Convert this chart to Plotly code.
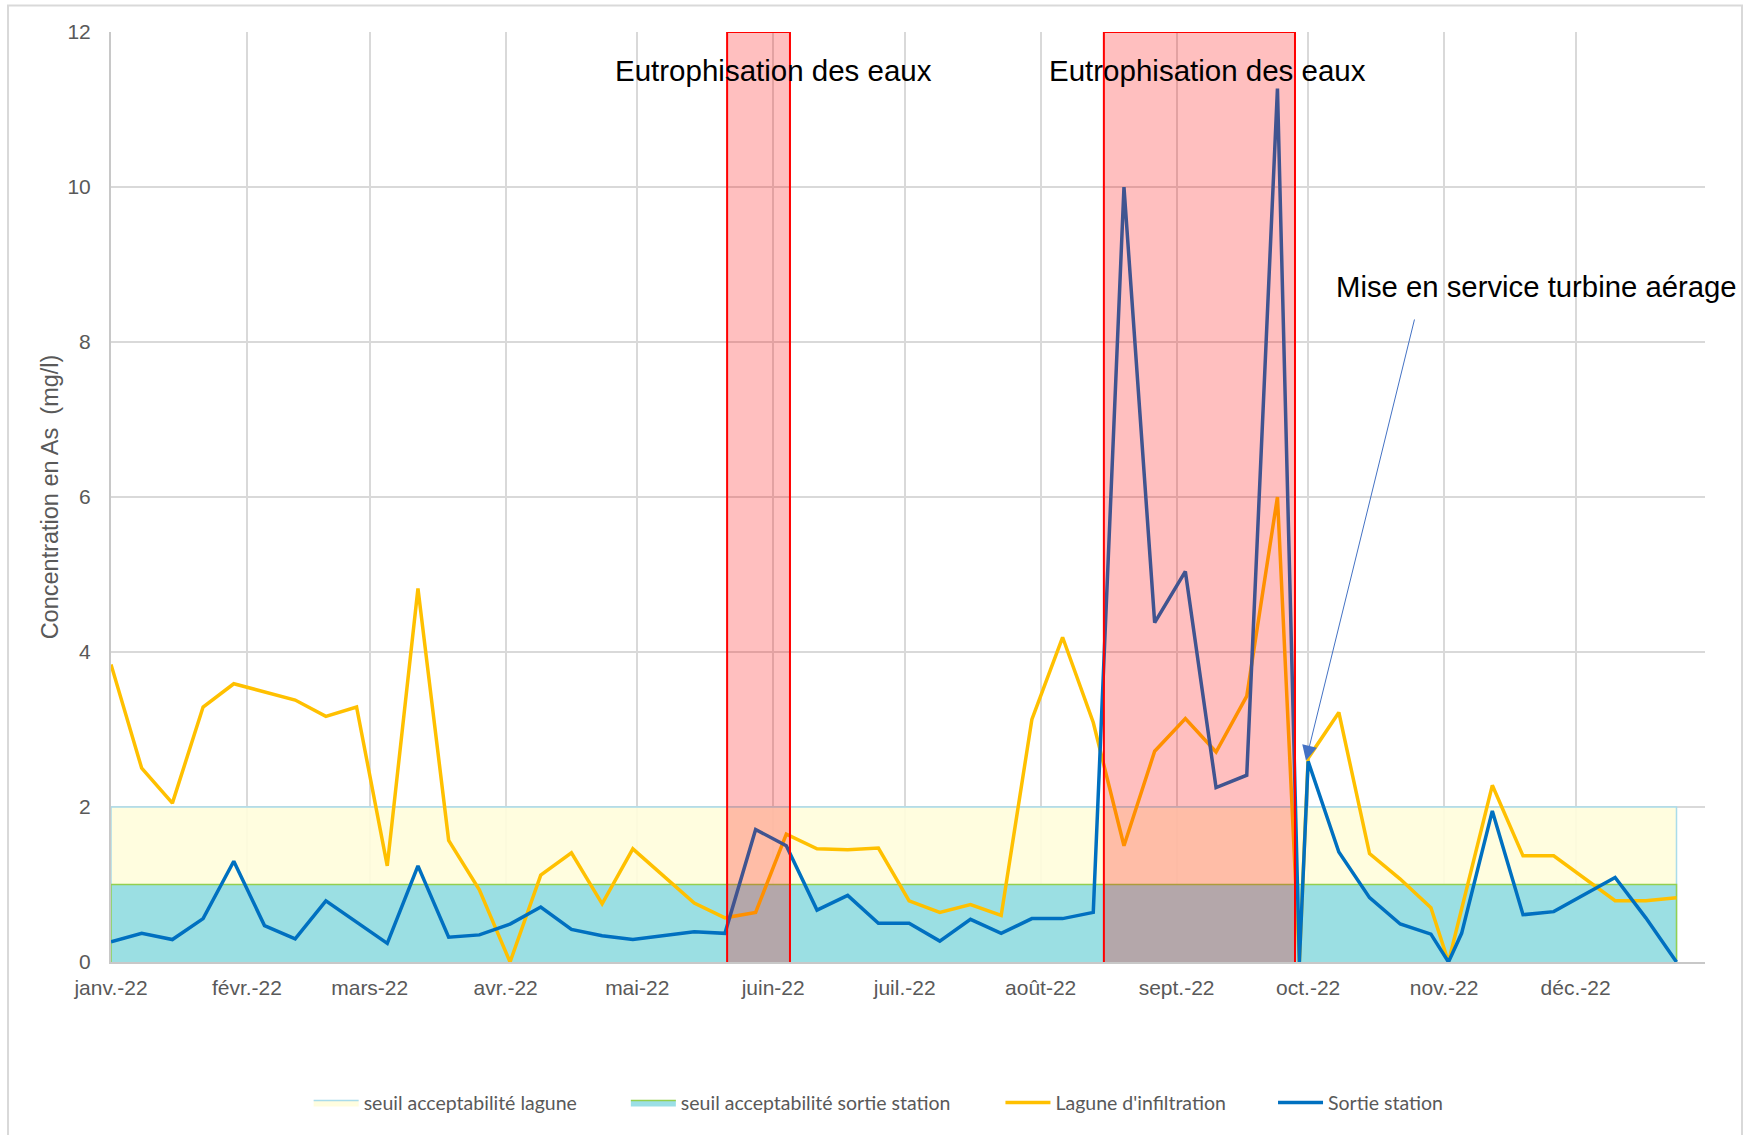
import plotly.graph_objects as go

# ---------------- data ----------------
dates = [
    "2022-01-01", "2022-01-08", "2022-01-15", "2022-01-22", "2022-01-29",
    "2022-02-05", "2022-02-12", "2022-02-19", "2022-02-26",
    "2022-03-05", "2022-03-12", "2022-03-19", "2022-03-26",
    "2022-04-02", "2022-04-09", "2022-04-16", "2022-04-23", "2022-04-30",
    "2022-05-07", "2022-05-14", "2022-05-21", "2022-05-28",
    "2022-06-04", "2022-06-11", "2022-06-18", "2022-06-25",
    "2022-07-02", "2022-07-09", "2022-07-16", "2022-07-23", "2022-07-30",
    "2022-08-06", "2022-08-13", "2022-08-20", "2022-08-27",
    "2022-09-03", "2022-09-10", "2022-09-17", "2022-09-24", "2022-09-29",
    "2022-10-01", "2022-10-08", "2022-10-15", "2022-10-22", "2022-10-29",
    "2022-11-02", "2022-11-05", "2022-11-12", "2022-11-19", "2022-11-26",
    "2022-12-03", "2022-12-10", "2022-12-17", "2022-12-24",
]

lagune = [
    3.84, 2.50, 2.05, 3.29, 3.59,
    None, 3.38, 3.17, 3.29,
    1.24, 4.82, 1.57, 0.93,
    0.00, 1.12, 1.41, 0.75, 1.46,
    None, 0.76, 0.57, 0.64,
    1.65, 1.46, 1.45, 1.47,
    0.79, 0.64, 0.74, 0.60, 3.13,
    4.19, 3.09, 1.50, 2.72,
    3.14, 2.71, 3.43, 6.00, 0.00,
    2.63, 3.22, 1.40, 1.07, 0.70,
    0.00, None, 2.28, 1.37, 1.37,
    None, 0.79, 0.79, 0.83,
]

sortie = [
    0.26, 0.37, 0.29, 0.56, 1.30,
    0.47, 0.30, 0.79, None,
    0.24, 1.24, 0.32, 0.35,
    0.49, 0.71, 0.42, 0.34, 0.29,
    None, 0.39, 0.37, 1.71,
    1.50, 0.67, 0.86, 0.50,
    0.50, 0.27, 0.55, 0.37, 0.56,
    0.56, 0.64, 10.00, 4.38,
    5.04, 2.25, 2.41, 11.27, 0.00,
    2.59, 1.42, 0.83, 0.49, 0.36,
    0.00, 0.37, 1.95, 0.61, 0.65,
    None, 1.09, 0.57, 0.00,
]

seuil_lagune = 2.0
seuil_sortie = 1.0

month_ticks = ["2022-01-01", "2022-02-01", "2022-03-01", "2022-04-01",
               "2022-05-01", "2022-06-01", "2022-07-01", "2022-08-01",
               "2022-09-01", "2022-10-01", "2022-11-01", "2022-12-01"]
month_labels = ["janv.-22", "févr.-22", "mars-22", "avr.-22", "mai-22",
                "juin-22", "juil.-22", "août-22", "sept.-22", "oct.-22",
                "nov.-22", "déc.-22"]

eutro_periods = [("2022-05-21 12:00", "2022-06-04 20:00"),
                 ("2022-08-15 10:00", "2022-09-28 00:00")]

# ---------------- figure ----------------
GREY = "#595959"
AX_FONT = "Liberation Sans, Arial, sans-serif"
LEG_FONT = "Lato, Liberation Sans, sans-serif"

fig = go.Figure()

def band(level):
    xs = [dates[0]] + dates + [dates[-1]]
    ys = [0] + [level] * len(dates) + [0]
    return xs, ys

bx, by = band(seuil_lagune)
fig.add_trace(go.Scatter(
    x=bx, y=by, fill="toself", mode="lines",
    fillcolor="rgba(255,253,220,0.92)",
    line=dict(color="#A9DCEA", width=1.5),
    name="seuil acceptabilité lagune", legend="legend",
    hoverinfo="skip"))

bx, by = band(seuil_sortie)
fig.add_trace(go.Scatter(
    x=bx, y=by, fill="toself", mode="lines",
    fillcolor="rgba(144,219,227,0.9)",
    line=dict(color="#92D050", width=1.5),
    name="seuil acceptabilité sortie station", legend="legend2",
    hoverinfo="skip"))

fig.add_trace(go.Scatter(
    x=dates, y=lagune, mode="lines", connectgaps=True,
    line=dict(color="#FFC000", width=3.5),
    name="Lagune d'infiltration", legend="legend3"))

fig.add_trace(go.Scatter(
    x=dates, y=sortie, mode="lines", connectgaps=True,
    line=dict(color="#0070C0", width=3.5),
    name="Sortie station", legend="legend4"))

for x0, x1 in eutro_periods:
    fig.add_shape(type="rect", xref="x", yref="y", x0=x0, x1=x1, y0=-0.02, y1=12,
                  fillcolor="rgba(255,0,0,0.25)", line=dict(color="#FF0000", width=2),
                  layer="above")

# annotations
fig.add_annotation(x="2022-06-01", y=11.5, xref="x", yref="y", text="Eutrophisation des eaux",
                   showarrow=False, font=dict(family=AX_FONT, size=29.5, color="black"))
fig.add_annotation(x="2022-09-08", y=11.5, xref="x", yref="y", text="Eutrophisation des eaux",
                   showarrow=False, font=dict(family=AX_FONT, size=29.5, color="black"))
fig.add_annotation(x="2022-10-07", y=8.72, xref="x", yref="y", text="Mise en service turbine aérage",
                   showarrow=False, xanchor="left",
                   font=dict(family=AX_FONT, size=29.3, color="black"))
fig.add_annotation(x="2022-09-30 12:00", y=2.6, xref="x", yref="y",
                   ax="2022-10-25 08:00", ay=8.31, axref="x", ayref="y",
                   text="", showarrow=True, arrowhead=2, arrowsize=3, arrowwidth=1,
                   arrowcolor="#4472C4", standoff=0)

# chart border
fig.add_shape(type="rect", xref="paper", yref="paper",
              x0=-0.0646, x1=1.0232, y0=-0.195, y1=1.0286,
              line=dict(color="#D9D9D9", width=2), fillcolor="rgba(0,0,0,0)", layer="below")

leg_common = dict(orientation="h", yanchor="middle", y=-0.1515, xanchor="left",
                  font=dict(family=LEG_FONT, size=19.5, color=GREY),
                  bgcolor="rgba(0,0,0,0)", itemwidth=45)

fig.update_layout(
    width=1747, height=1135,
    margin=dict(l=111, r=42, t=32, b=173),
    paper_bgcolor="white", plot_bgcolor="white",
    showlegend=True,
    legend=dict(leg_common, x=0.124),
    legend2=dict(leg_common, x=0.323),
    legend3=dict(leg_common, x=0.558),
    legend4=dict(leg_common, x=0.729),
    xaxis=dict(
        type="date", range=["2022-01-01", "2022-12-30 12:00"],
        tickvals=month_ticks, ticktext=month_labels,
        showgrid=True, gridcolor="#D9D9D9", gridwidth=1.5,
        showline=True, linecolor="#C8C8C8", linewidth=2,
        ticks="", ticklabelstandoff=6,
        tickfont=dict(family=AX_FONT, size=21, color=GREY),
    ),
    yaxis=dict(
        range=[0, 12], tickvals=[0, 2, 4, 6, 8, 10, 12],
        showgrid=True, gridcolor="#D9D9D9", gridwidth=1.5,
        showline=True, linecolor="#C8C8C8", linewidth=2, zeroline=False,
        ticks="", ticklabelstandoff=14,
        tickfont=dict(family=AX_FONT, size=21, color=GREY),
        title=dict(text="Concentration en As  (mg/l)", standoff=2,
                   font=dict(family=AX_FONT, size=23.5, color=GREY)),
    ),
)

fig.write_html("out.html", config={"displayModeBar": False},
               post_script="document.body.style.margin='0px';document.body.style.padding='0px';")
